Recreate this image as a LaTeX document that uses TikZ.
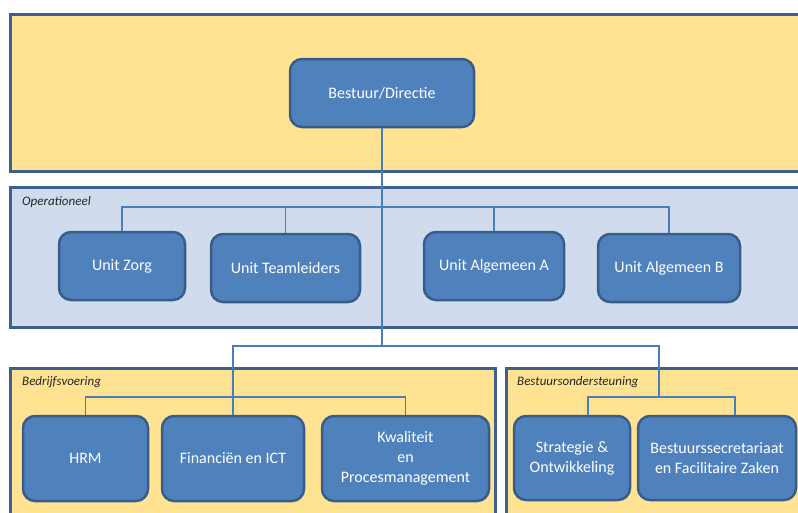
\documentclass[tikz,border=0pt]{standalone}
\usepackage{fontspec}
\setmainfont{Carlito}
\definecolor{bandgeel}{HTML}{FFE393}
\definecolor{bandblauw}{HTML}{D0DCEE}
\definecolor{randblauw}{HTML}{3F5F8F}
\definecolor{unitblauw}{HTML}{4F81BD}
\definecolor{unitrand}{HTML}{385D8A}
\definecolor{lijnblauw}{HTML}{4A7EBB}
\tikzstyle{band} = [draw=randblauw, line width=3pt]
\tikzstyle{unit} = [rectangle, rounded corners=12pt, draw=unitrand, line width=2.5pt, fill=unitblauw, text=white, align=center, font=\fontsize{16}{20}\selectfont, inner sep=2pt]
\tikzstyle{bandlabel} = [anchor=west, inner sep=0pt, text=black!85, font=\fontsize{13}{15}\selectfont\itshape]
\tikzstyle{link} = [draw=lijnblauw, line width=1.3pt]

\begin{document}
\begin{tikzpicture}[x=1pt, y=-1pt]
\useasboundingbox (0,0) rectangle (798,512);
\clip (0,0) rectangle (798,512);

% bands
\draw [band, fill=bandgeel] (10,14) rectangle (810,171);
\draw [band, fill=bandblauw] (10,187) rectangle (810,327);
\draw [band, fill=bandgeel] (10,368) rectangle (495,530);
\draw [band, fill=bandgeel] (506,368) rectangle (810,530);

\node (oplabel) [bandlabel] at (22,202) {Operationeel};
\node (bvlabel) [bandlabel] at (22,382) {Bedrijfsvoering};
\node (bolabel) [bandlabel] at (517,382) {Bestuursondersteuning};

% units
\node (directie) [unit, minimum width=184pt, minimum height=68pt] at (382,93) {Bestuur/Directie};

\node (zorg) [unit, minimum width=126pt, minimum height=68pt] at (122,266) {Unit Zorg};
\node (team) [unit, minimum width=149pt, minimum height=68pt] at (285.5,268) {Unit Teamleiders};
\node (alga) [unit, minimum width=140pt, minimum height=68pt] at (494,266) {Unit Algemeen A};
\node (algb) [unit, minimum width=142pt, minimum height=68pt] at (669,268) {Unit Algemeen B};

\node (hrm) [unit, minimum width=125pt, minimum height=85pt] at (85.5,458.5) {HRM};
\node (fin) [unit, minimum width=142pt, minimum height=85pt] at (233,458.5) {Financiën en ICT};
\node (kwal) [unit, minimum width=167pt, minimum height=85pt] at (405.5,458.5) {Kwaliteit\\en\\Procesmanagement};

\node (strat) [unit, minimum width=116pt, minimum height=84pt] at (572,458) {Strategie \&\\Ontwikkeling};
\node (secr) [unit, minimum width=158pt, minimum height=84pt] at (717,458) {Bestuurssecretariaat\\en Facilitaire Zaken};

% lines
\coordinate (opbus) at (382,207);
\coordinate (midbus) at (382,346);
\coordinate (bvbus) at (233,397);
\coordinate (bobus) at (659,397);
\coordinate (sdrop) at (588,397);
\coordinate (bdrop) at (735,397);

\draw [link] (directie) -- (midbus);
\draw [link] (zorg.north) |- (algb.north |- opbus) -- (algb.north);
\draw [link] (team.north) -- (team.north |- opbus);
\draw [link] (alga.north) -- (alga.north |- opbus);

\draw [link] (midbus) -| (fin.north);
\draw [link] (midbus) -| (bobus);
\draw [link] (hrm.north) |- (kwal.north |- bvbus) -- (kwal.north);
\draw [link] (strat.north -| sdrop) -- (sdrop) -- (bdrop) -- (secr.north -| bdrop);

\end{tikzpicture}
\end{document}
